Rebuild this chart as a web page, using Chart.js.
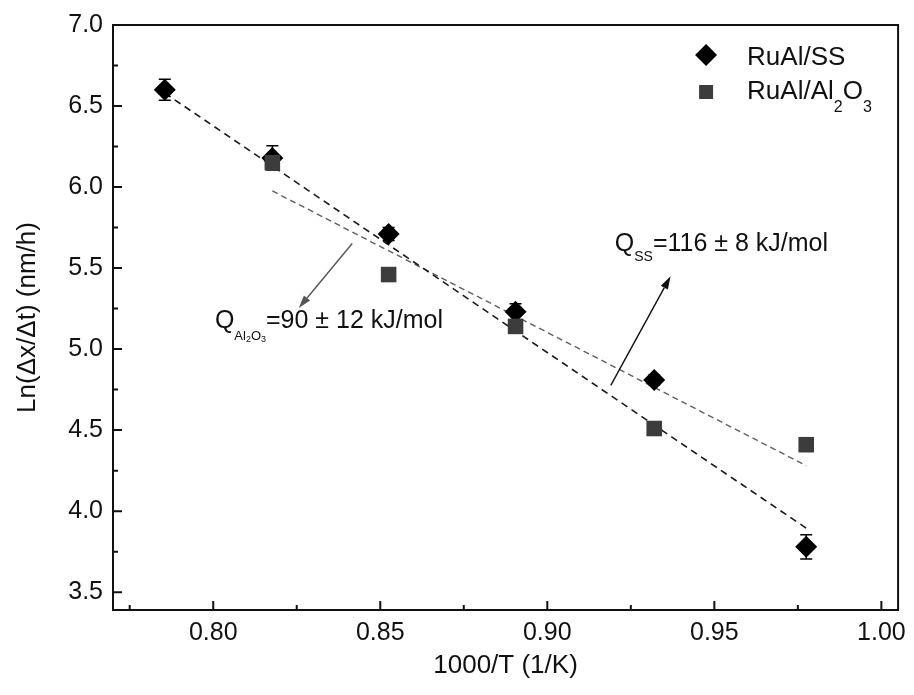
<!DOCTYPE html>
<html>
<head>
<meta charset="utf-8">
<script src="https://cdn.jsdelivr.net/npm/chart.js@4.4.1/dist/chart.umd.min.js"></script>
<style>
  html, body { margin: 0; padding: 0; background: #fff; }
  #wrap { width: 914px; height: 695px; }
</style>
</head>
<body>
<div id="wrap"><canvas id="c" width="914" height="695"></canvas></div>
<script>
// Growth rate vs inverse temperature (Arrhenius plot)
const invT_SS   = [0.7855, 0.8177, 0.8525, 0.8905, 0.9320, 0.9775];
const lnRate_SS = [6.60, 6.18, 5.71, 5.23, 4.81, 3.78];
const err_SS    = [0.065, 0.075, 0.04, 0.05, 0.03, 0.075];

const invT_Al   = [0.8177, 0.8525, 0.8905, 0.9320, 0.9775];
const lnRate_Al = [6.15, 5.46, 5.14, 4.51, 4.41];

// Linear fits (end points of each fitted line)
const fitSS_x = [0.7855, 0.9775];
const fitSS_y = [6.58, 3.895];
const fitAl_x = [0.8177, 0.9775];
const fitAl_y = [5.976, 4.281];

// Axis tick values
const xTickVals = [0.80, 0.85, 0.90, 0.95, 1.00];
const yTickVals = [3.5, 4.0, 4.5, 5.0, 5.5, 6.0, 6.5, 7.0];

// Activation-energy labels and their arrows (data coordinates: tail -> tip)
const arrowSS = [[0.9190, 4.776], [0.9369, 5.450]];
const arrowAl = [[0.8416, 5.652], [0.8256, 5.254]];
const labelSS_at = [0.9202, 5.607];
const labelAl_at = [0.8005, 5.131];

const FONT = '"Liberation Sans", Arial, Helvetica, sans-serif';

function pts(xs, ys) { return xs.map((x, i) => ({ x: x, y: ys[i] })); }

function drawArrow(ctx, x0, y0, x1, y1, color, lw, headLen, headW) {
  const a = Math.atan2(y1 - y0, x1 - x0);
  const bx = x1 - headLen * Math.cos(a), by = y1 - headLen * Math.sin(a);
  ctx.strokeStyle = color; ctx.lineWidth = lw;
  ctx.beginPath(); ctx.moveTo(x0, y0); ctx.lineTo(bx, by); ctx.stroke();
  ctx.fillStyle = color;
  ctx.beginPath();
  ctx.moveTo(x1, y1);
  ctx.lineTo(bx + headW / 2 * Math.sin(a), by - headW / 2 * Math.cos(a));
  ctx.lineTo(bx - headW / 2 * Math.sin(a), by + headW / 2 * Math.cos(a));
  ctx.closePath(); ctx.fill();
}

// text made of runs: [text, fontSize, baselineShift]
function drawRuns(ctx, x, y, runs, color) {
  ctx.fillStyle = color || '#111';
  ctx.textAlign = 'left';
  ctx.textBaseline = 'alphabetic';
  for (const [t, size, dy] of runs) {
    ctx.font = size + 'px ' + FONT;
    ctx.fillText(t, x, y + dy);
    x += ctx.measureText(t).width;
  }
}

const decor = {
  id: 'decor',
  beforeDatasetsDraw(chart) {
    const { ctx, scales: { x, y } } = chart;
    ctx.save();
    ctx.strokeStyle = '#000';
    ctx.lineWidth = 1.5;
    invT_SS.forEach((v, i) => {
      const px = x.getPixelForValue(v);
      const pTop = y.getPixelForValue(lnRate_SS[i] + err_SS[i]);
      const pBot = y.getPixelForValue(lnRate_SS[i] - err_SS[i]);
      ctx.beginPath();
      ctx.moveTo(px, pTop); ctx.lineTo(px, pBot);
      ctx.moveTo(px - 6, pTop); ctx.lineTo(px + 6, pTop);
      ctx.moveTo(px - 6, pBot); ctx.lineTo(px + 6, pBot);
      ctx.stroke();
    });
    ctx.restore();
  },
  afterDraw(chart) {
    const { ctx, chartArea: a, scales: { x, y } } = chart;
    ctx.save();
    // frame
    ctx.strokeStyle = '#111';
    ctx.lineWidth = 2;
    ctx.strokeRect(a.left, a.top, a.right - a.left, a.bottom - a.top);
    // inward ticks on left and bottom axes
    ctx.lineWidth = 2;
    ctx.beginPath();
    xTickVals.forEach(v => {
      const px = x.getPixelForValue(v);
      ctx.moveTo(px, a.bottom); ctx.lineTo(px, a.bottom - 9);
    });
    for (let i = 0; i <= xTickVals.length - 1; i++) {
      const v = xTickVals[i] - 0.025;
      if (v > x.min) {
        const px = x.getPixelForValue(v);
        ctx.moveTo(px, a.bottom); ctx.lineTo(px, a.bottom - 5);
      }
    }
    yTickVals.forEach(v => {
      const py = y.getPixelForValue(v);
      ctx.moveTo(a.left, py); ctx.lineTo(a.left + 9, py);
    });
    for (let i = 1; i < yTickVals.length; i++) {
      const v = yTickVals[i] - 0.25;
      const py = y.getPixelForValue(v);
      ctx.moveTo(a.left, py); ctx.lineTo(a.left + 5, py);
    }
    ctx.stroke();

    // arrows
    drawArrow(ctx,
      x.getPixelForValue(arrowSS[0][0]), y.getPixelForValue(arrowSS[0][1]),
      x.getPixelForValue(arrowSS[1][0]), y.getPixelForValue(arrowSS[1][1]),
      '#111', 1.4, 13, 8);
    drawArrow(ctx,
      x.getPixelForValue(arrowAl[0][0]), y.getPixelForValue(arrowAl[0][1]),
      x.getPixelForValue(arrowAl[1][0]), y.getPixelForValue(arrowAl[1][1]),
      '#555', 1.4, 13, 8);

    // activation energy labels
    drawRuns(ctx, x.getPixelForValue(labelSS_at[0]), y.getPixelForValue(labelSS_at[1]), [
      ['Q', 25, 0], ['SS', 14, 10], ['=116 \u00B1 8 kJ/mol', 25, 0]
    ]);
    drawRuns(ctx, x.getPixelForValue(labelAl_at[0]), y.getPixelForValue(labelAl_at[1]), [
      ['Q', 25, 0], ['Al', 13, 12], ['2', 9, 14], ['O', 13, 12], ['3', 9, 14], ['=90 \u00B1 12 kJ/mol', 25, 0]
    ]);

    // legend
    const lx = a.right - 192, ly1 = a.top + 30, ly2 = a.top + 67;
    ctx.fillStyle = '#000';
    ctx.beginPath();
    ctx.moveTo(lx, ly1 - 11); ctx.lineTo(lx + 11, ly1); ctx.lineTo(lx, ly1 + 11); ctx.lineTo(lx - 11, ly1);
    ctx.closePath(); ctx.fill();
    ctx.fillStyle = '#3c3c3c';
    ctx.fillRect(lx - 7, ly2 - 7, 14, 14);
    drawRuns(ctx, lx + 41, ly1 + 10, [['RuAl/SS', 26, 0]]);
    drawRuns(ctx, lx + 41, ly2 + 7, [['RuAl/Al', 26, 0], ['2', 16, 13], ['O', 26, 0], ['3', 16, 13]]);
    ctx.restore();
  }
};

new Chart(document.getElementById('c'), {
  type: 'scatter',
  data: {
    datasets: [
      {
        label: 'RuAl/Al2O3',
        data: pts(invT_Al, lnRate_Al),
        pointStyle: 'rect',
        pointRadius: 11,
        backgroundColor: '#3c3c3c',
        borderColor: '#3c3c3c',
        borderWidth: 0,
        order: 0
      },
      {
        label: 'RuAl/SS',
        data: pts(invT_SS, lnRate_SS),
        pointStyle: 'rectRot',
        pointRadius: 11,
        backgroundColor: '#000',
        borderColor: '#000',
        borderWidth: 0,
        order: 1
      },
      {
        label: 'fit SS',
        data: pts(fitSS_x, fitSS_y),
        showLine: true,
        pointRadius: 0,
        borderColor: '#1a1a1a',
        borderWidth: 1.6,
        borderDash: [7, 5],
        order: 2
      },
      {
        label: 'fit Al2O3',
        data: pts(fitAl_x, fitAl_y),
        showLine: true,
        pointRadius: 0,
        borderColor: '#5f5f5f',
        borderWidth: 1.4,
        borderDash: [6, 4],
        order: 3
      }
    ]
  },
  options: {
    responsive: false,
    animation: false,
    devicePixelRatio: 1,
    layout: { padding: { top: 21, right: 14, left: 0, bottom: 0 } },
    plugins: { legend: { display: false }, tooltip: { enabled: false } },
    scales: {
      x: {
        type: 'linear',
        min: 0.77, max: 1.005,
        afterBuildTicks(s) { s.ticks = xTickVals.map(v => ({ value: v })); },
        afterFit(s) { s.height = 85; },
        grid: { display: false, drawTicks: false },
        border: { display: false },
        ticks: {
          padding: 8,
          color: '#111',
          font: { family: FONT, size: 25 },
          callback: v => v.toFixed(2),
          maxRotation: 0
        },
        title: {
          display: true,
          text: '1000/T (1/K)',
          color: '#111',
          font: { family: FONT, size: 26 },
          padding: { top: 0, bottom: 14 }
        }
      },
      y: {
        type: 'linear',
        min: 3.39, max: 7.0,
        afterBuildTicks(s) { s.ticks = yTickVals.map(v => ({ value: v })); },
        afterFit(s) { s.width = 113; },
        grid: { display: false, drawTicks: false },
        border: { display: false },
        ticks: {
          padding: 10,
          color: '#111',
          font: { family: FONT, size: 25 },
          callback: v => v.toFixed(1)
        },
        title: {
          display: true,
          text: 'Ln(\u0394x/\u0394t) (nm/h)',
          color: '#111',
          font: { family: FONT, size: 26 },
          padding: { top: 12, bottom: 0 }
        }
      }
    }
  },
  plugins: [decor]
});
</script>
</body>
</html>
